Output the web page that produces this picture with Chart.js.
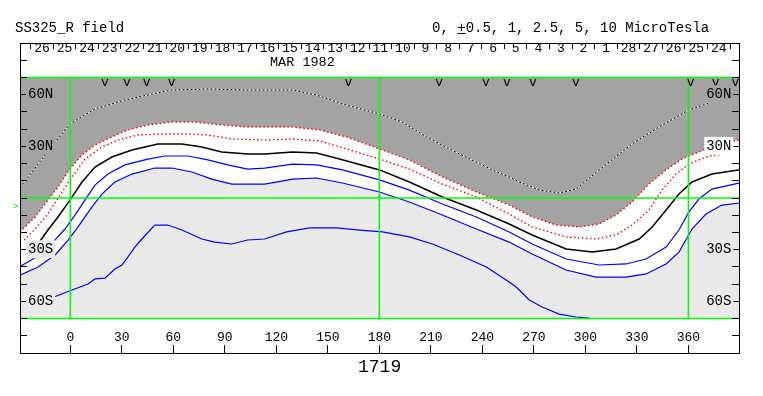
<!DOCTYPE html>
<html><head><meta charset="utf-8">
<script src="https://cdn.jsdelivr.net/npm/chart.js@4/dist/chart.umd.min.js"></script>
<style>
html,body{margin:0;padding:0;background:#fff;}
#wrap{position:relative;width:763px;height:396px;overflow:hidden;background:#fff;}
canvas{position:absolute;left:0;top:0;}
.t{position:absolute;font-family:"Liberation Mono",monospace;color:#000;white-space:pre;line-height:1;}
</style></head><body>
<div id="wrap">
<canvas id="c" width="763" height="396"></canvas>
<div class="t" style="left:15px;top:21px;font-size:14px">SS325_R field</div>
<div class="t" style="left:432px;top:21px;font-size:14px">0, <u>+</u>0.5, 1, 2.5, 5, 10 MicroTesla</div>
<div class="t" style="left:270px;top:56px;font-size:13.5px">MAR 1982</div>
<div class="t" style="left:358px;top:358px;font-size:18px">1719</div>
<div class="t" style="left:13px;top:203px;font-size:9px;color:#00dd00">&gt;</div>
</div>
<script>
// ---- axes / categories ----
const lonRange = [-29.3, 390];
const latRange = [-90, 90];
const plotLat = [-70, 70];
const meridians = [0, 180, 360];
const parallels = [-70, 0, 70];
const lonTicks = [0, 30, 60, 90, 120, 150, 180, 210, 240, 270, 300, 330, 360];
const latLabels = {"60": "60N", "30": "30N", "-30": "30S", "-60": "60S"};
const dayLabels = ["26","25","24","23","22","21","20","19","18","17","16","15","14","13","12","11","10","9","8","7","6","5","4","3","2","1","28","27","26","25","24",""];
const dayStartLon = -23.1;
const dayWidthDeg = 13.14;
const markerLons = [20.1, 32.9, 44.5, 59.0, 161.9, 214.8, 242.1, 254.3, 269.4, 294.4, 361.3, 375.8, 387.4];

// ---- contour series: [longitude, latitude] ----
const curveDotted = [[-29.3,6.0],[-14.7,25.0],[-0.2,43.0],[14.4,51.7],[31.8,56.9],[53.3,61.6],[59.1,62.7],[80.0,63.3],[103.3,62.7],[113.2,62.7],[129.5,62.7],[143.4,59.8],[158.5,54.6],[180.1,48.8],[193.4,44.1],[207.4,35.4],[226.6,25.6],[245.8,16.3],[255.6,12.2],[261.5,9.3],[273.1,4.6],[284.7,2.9],[294.6,5.2],[308.0,16.3],[327.2,31.4],[342.8,41.2],[360.3,51.1],[373.6,55.7],[380.6,58.7]];
const curveRedOuter = [[-29.3,-19.6],[-20.5,-11.0],[-13.0,-1.2],[-7.2,6.4],[-0.2,16.8],[6.8,25.0],[14.4,30.8],[24.2,35.4],[33.5,39.5],[45.2,42.4],[59.1,44.1],[72.5,44.1],[88.2,42.4],[103.3,41.2],[113.2,41.2],[129.5,41.2],[145.2,39.5],[160.9,35.4],[180.1,28.5],[197.5,22.1],[216.7,12.2],[236.5,3.5],[255.6,-4.1],[269.0,-11.0],[283.0,-15.7],[296.3,-16.8],[308.0,-15.1],[317.9,-9.9],[327.2,-2.3],[337.0,8.1],[346.9,16.3],[356.2,22.6],[366.1,26.7],[376.0,30.8],[390,33.8]];
const curveRedInner = [[-26.9,-24.4],[-20.5,-18.0],[-13.0,-9.3],[-4.8,3.5],[1.0,12.2],[8.5,22.6],[18.4,29.6],[27.7,33.7],[39.4,36.6],[53.3,37.2],[66.7,37.2],[80.1,36.6],[94.0,34.3],[113.2,33.7],[129.5,34.3],[145.2,33.1],[160.9,28.5],[180.1,22.6],[197.5,16.8],[216.7,8.1],[236.5,0.6],[255.6,-9.3],[269.0,-16.8],[288.8,-22.6],[306.2,-23.8],[317.9,-21.5],[327.2,-15.7],[337.0,-7.0],[344.6,4.6],[352.7,13.9],[360.3,19.7],[370.2,23.8],[379.5,25.6]];
const curveBlack = [[-21.7,-27.3],[-17.6,-25.0],[-13.0,-18.6],[-7.2,-11.0],[-0.2,-1.2],[6.8,9.3],[14.4,18.0],[24.2,23.8],[35.9,27.9],[51.0,31.4],[65.0,31.4],[76.6,29.6],[88.2,26.7],[103.3,25.6],[113.2,25.6],[129.5,26.7],[143.4,26.1],[156.8,22.6],[180.1,16.3],[197.5,9.3],[216.7,0.6],[236.5,-7.0],[255.6,-15.1],[269.0,-21.5],[288.8,-29.6],[304.0,-31.4],[317.9,-29.6],[331.3,-23.8],[338.9,-16.8],[347.0,-7.0],[354.5,2.3],[362.1,9.3],[373.7,13.9],[390,16.4]];
const curveBlue1 = [[-29.3,-39.7],[-21.7,-35.4],[-9.5,-25.0],[-3.1,-18.0],[2.7,-9.9],[8.5,-1.2],[14.4,7.5],[21.9,13.9],[31.8,19.2],[45.2,22.6],[55.1,24.4],[68.4,24.4],[80.1,22.1],[91.7,19.2],[103.3,16.8],[113.2,17.4],[129.5,19.7],[143.4,19.2],[158.5,16.3],[180.1,10.5],[197.5,4.6],[216.7,-3.5],[236.5,-11.0],[255.6,-19.7],[269.0,-26.7],[288.8,-35.4],[308.0,-38.9],[323.7,-38.3],[335.3,-35.4],[347.0,-28.5],[354.5,-18.6],[360.3,-8.1],[366.1,-0.6],[373.7,5.2],[390,8.8]];
const curveBlue2 = [[-29.3,-44.8],[-18.8,-40.1],[-8.9,-33.1],[-1.3,-24.4],[4.5,-16.8],[12.6,-5.2],[18.4,2.3],[26.0,9.3],[35.9,13.9],[49.2,17.4],[59.1,17.4],[70.8,15.1],[82.4,11.0],[94.0,8.1],[103.3,8.1],[113.2,8.1],[129.5,11.0],[143.4,11.6],[158.5,8.7],[180.1,3.5],[197.5,-2.3],[216.7,-9.9],[236.5,-18.0],[255.6,-25.6],[269.0,-32.5],[288.8,-41.8],[306.2,-45.9],[323.7,-45.9],[335.3,-44.1],[347.0,-38.3],[354.5,-31.4],[362.1,-18.0],[370.2,-9.3],[379.5,-4.1],[390,-2.9]];
const curveBlue3 = [[-14.7,-59.2],[-9.5,-57.5],[1.0,-53.4],[10.3,-49.9],[14.4,-47.0],[20.2,-46.5],[26.0,-41.2],[30.1,-38.9],[33.5,-34.3],[37.6,-28.5],[41.7,-23.8],[49.2,-15.7],[56.8,-15.7],[65.0,-18.6],[76.6,-23.8],[84.1,-25.6],[94.0,-26.7],[103.3,-24.4],[113.2,-23.8],[126.0,-19.7],[139.4,-17.4],[155.1,-17.4],[168.4,-18.6],[181.8,-19.7],[197.5,-22.6],[210.9,-26.7],[226.6,-33.1],[242.3,-40.1],[255.6,-48.8],[259.7,-51.7],[267.3,-59.2],[274.8,-63.3],[284.7,-67.4],[294.6,-69.1],[302.2,-69.8]];

// ---- styles ----
const GRAY = '#a3a3a3', LIGHT = '#e9e9e9', GREEN = '#00ff00', RED = '#ff0000', BLUE = '#0000ff';
const MONO = '"Liberation Mono", "DejaVu Sans Mono", monospace';
const pts = a => a.map(([x, y]) => ({x, y}));
const base = {xAxisID: 'x', yAxisID: 'y', pointRadius: 0, tension: 0, fill: false};

const datasets = [];
meridians.forEach(m => datasets.push({...base, data: pts([[m, plotLat[0]], [m, plotLat[1]]]), borderColor: GREEN, borderWidth: 1.5}));
parallels.forEach(p => datasets.push({...base, data: pts([[lonRange[0], p], [lonRange[1], p]]), borderColor: GREEN, borderWidth: 1.5}));
datasets.push({...base, data: pts(curveDotted), borderColor: '#000', borderWidth: 1, borderDash: [2, 2]});
datasets.push({...base, data: pts(curveDotted), borderColor: '#fff', borderWidth: 1});
datasets.push({...base, data: pts(curveRedOuter), borderColor: RED, borderWidth: 1.4, borderDash: [1.5, 2.5], fill: {value: plotLat[1]}, backgroundColor: GRAY});
datasets.push({...base, data: pts(curveRedInner), borderColor: RED, borderWidth: 1.4, borderDash: [1.5, 2.5]});
datasets.push({...base, data: pts(curveBlack), borderColor: '#000', borderWidth: 1.5});
datasets.push({...base, data: pts(curveBlue1), borderColor: BLUE, borderWidth: 1.2});
datasets.push({...base, data: pts(curveBlue2), borderColor: BLUE, borderWidth: 1.2, fill: {value: plotLat[0]}, backgroundColor: LIGHT});
datasets.push({...base, data: pts(curveBlue3), borderColor: BLUE, borderWidth: 1.2});

const dayBoundaries = dayLabels.map((_, k) => dayStartLon + k * dayWidthDeg);

function latBackdrop(ctx) {
  const t = ctx.tick;
  if (!t || !t.label) return 'rgba(0,0,0,0)';
  if (t.value > 0) return (ctx.scale.id === 'y2' && t.value === 30) ? '#ffffff' : GRAY;
  return LIGHT;
}
const axisLine = {display: true, color: '#000', width: 1, z: 1};
function yAxis(pos, pad, tl) {
  return {
    type: 'linear', position: pos, min: latRange[0], max: latRange[1],
    afterFit: a => { a.width = 0; },
    grid: {drawOnChartArea: false, drawTicks: true, tickLength: tl, color: '#000', lineWidth: 1, z: 1},
    border: axisLine,
    ticks: {stepSize: 10, autoSkip: false, mirror: true, padding: pad, z: 1, color: '#000',
      font: {family: MONO, size: 14},
      showLabelBackdrop: true, backdropColor: latBackdrop, backdropPadding: {top: 1, bottom: 0, left: 2, right: 2},
      callback: v => latLabels[String(v)] || ''}
  };
}
function xAxis(atLat, ticksArr, tl, pad, font, extra) {
  return Object.assign({
    type: 'linear', position: {y: atLat}, min: lonRange[0], max: lonRange[1],
    afterBuildTicks: a => { a.ticks = ticksArr.map(v => ({value: v})); },
    grid: {drawOnChartArea: false, drawTicks: true, tickLength: tl, color: '#000', lineWidth: 1, z: 1},
    border: axisLine,
    ticks: {autoSkip: false, maxRotation: 0, padding: pad, z: 1, color: '#000', font: {family: MONO, size: font}}
  }, extra || {});
}

const xBottom = xAxis(latRange[0], lonTicks, -9, -14, 13);
xBottom.ticks.callback = v => String(v);
const xTop = xAxis(latRange[1], dayBoundaries, 5, -7.3, 13);
xTop.ticks.labelOffset = 11.3;
xTop.ticks.callback = (v, i) => dayLabels[i] || '';
const xMarks = xAxis(latRange[1], markerLons, 0, 23.5, 13);
xMarks.grid = {display: false};
xMarks.border = {display: false};
xMarks.ticks.callback = () => 'v';

new Chart(document.getElementById('c'), {
  type: 'line',
  data: {datasets},
  options: {
    responsive: false, animation: false, events: [],
    layout: {padding: {left: 20, right: 21.5, top: 43, bottom: 43}, autoPadding: false},
    plugins: {legend: {display: false}, tooltip: {enabled: false}, title: {display: false}, filler: {drawTime: 'beforeDatasetsDraw'}},
    scales: {
      x: xBottom,
      xt: xTop,
      xv: xMarks,
      y: yAxis('left', 8, -7),
      y2: yAxis('right', -8.5, -8)
    }
  }
});
</script>
</body></html>
